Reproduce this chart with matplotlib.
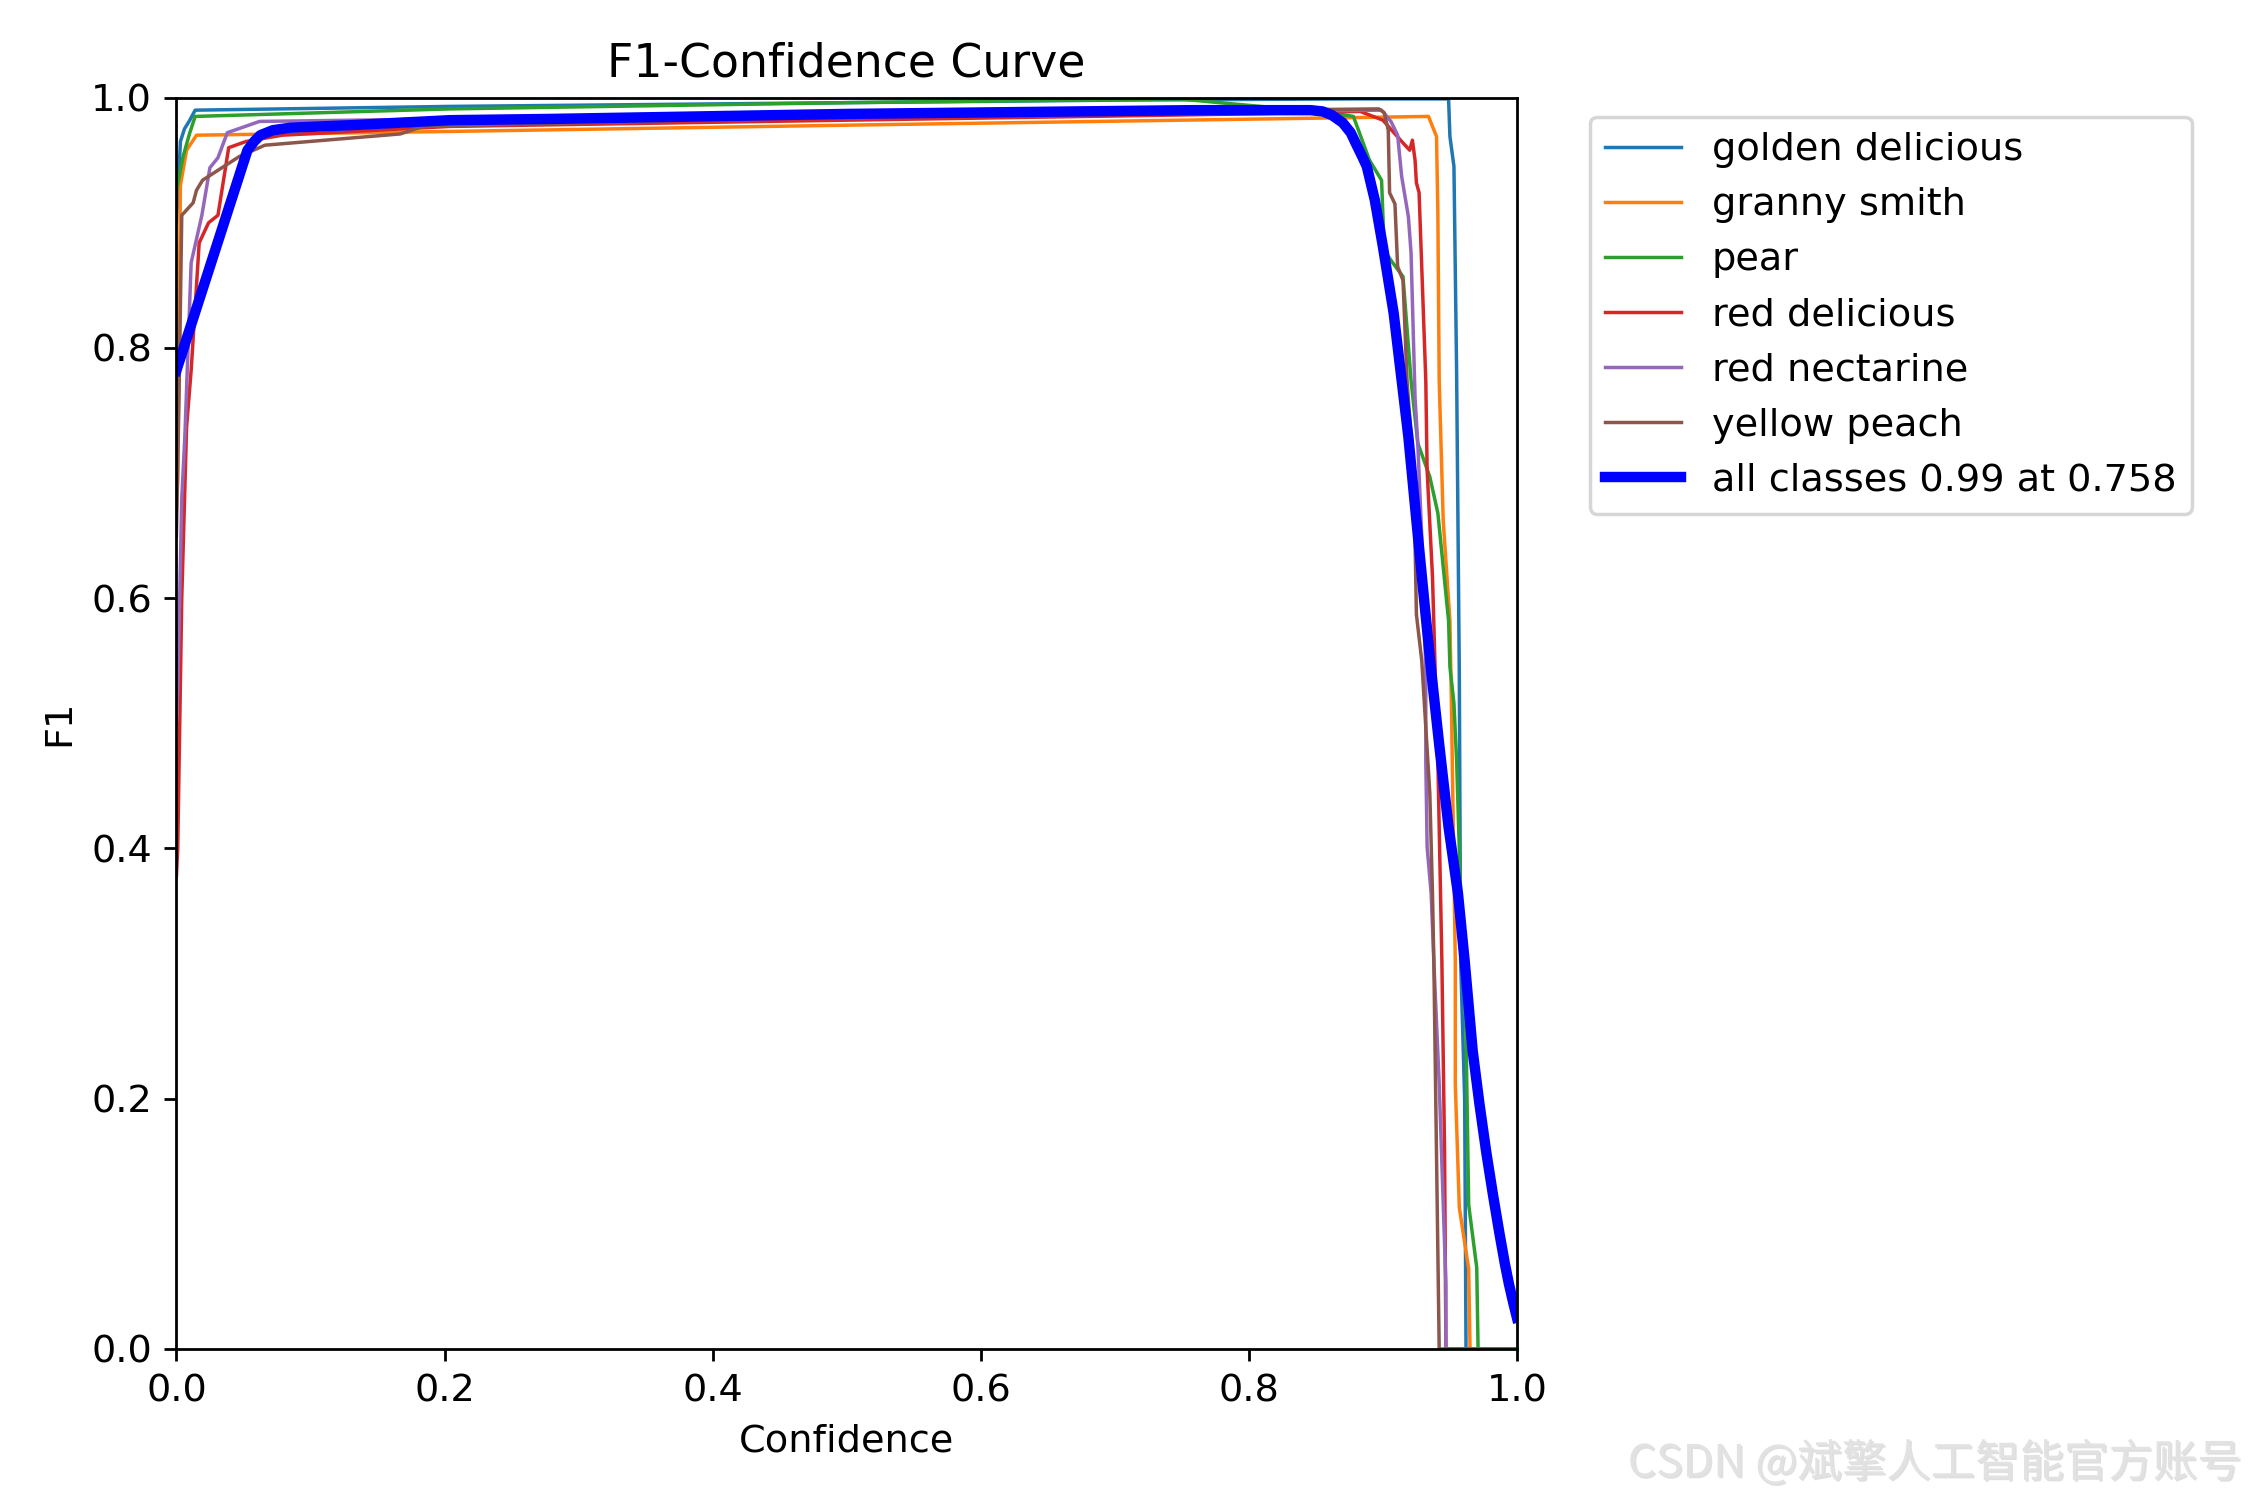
import matplotlib
matplotlib.use("Agg")
import matplotlib.pyplot as plt
import matplotlib.patheffects as pe

plt.rcParams["font.size"] = 11

names = ["golden delicious", "granny smith", "pear", "red delicious",
         "red nectarine", "yellow peach"]

golden_x = [0.0, 0.003, 0.006, 0.010, 0.014, 0.204, 0.5, 0.7, 0.875, 0.949, 0.950, 0.953,
            0.955, 0.957, 0.958, 0.961, 0.962, 1.0]
golden_y = [0.90, 0.965, 0.975, 0.982, 0.990, 0.993, 0.996, 0.998, 0.999, 0.999, 0.969, 0.945,
            0.78, 0.54, 0.31, 0.20, 0.0, 0.0]

granny_x = [0.0, 0.001, 0.003, 0.0076, 0.015, 0.204, 0.5, 0.875, 0.934, 0.940, 0.941, 0.942,
            0.945, 0.950, 0.951, 0.954, 0.954, 0.957, 0.964, 0.965, 1.0]
granny_y = [0.67, 0.695, 0.93, 0.958, 0.970, 0.973, 0.978, 0.984, 0.985, 0.969, 0.908, 0.774,
            0.662, 0.582, 0.524, 0.31, 0.212, 0.113, 0.064, 0.0, 0.0]

pear_x = [0.0, 0.005, 0.010, 0.014, 0.204, 0.5, 0.748, 0.778, 0.860, 0.878, 0.890, 0.899,
          0.901, 0.906, 0.915, 0.921, 0.926, 0.935, 0.941, 0.949, 0.950, 0.953, 0.955,
          0.958, 0.962, 0.964, 0.970, 0.971, 1.0]
pear_y = [0.925, 0.953, 0.972, 0.985, 0.991, 0.996, 0.999, 0.996, 0.988, 0.985, 0.950, 0.934,
          0.878, 0.870, 0.857, 0.774, 0.724, 0.697, 0.668, 0.582, 0.545, 0.516, 0.470,
          0.364, 0.252, 0.115, 0.065, 0.0, 0.0]

redd_x = [0.0, 0.001, 0.004, 0.0076, 0.011, 0.017, 0.024, 0.031, 0.039, 0.052, 0.079, 0.204,
          0.5, 0.8, 0.883, 0.900, 0.914, 0.920, 0.922, 0.924, 0.925, 0.927, 0.928, 0.932,
          0.933, 0.937, 0.939, 0.941, 0.942, 0.944, 0.946, 0.947, 1.0]
redd_y = [0.378, 0.40, 0.60, 0.737, 0.782, 0.884, 0.900, 0.906, 0.960, 0.965, 0.970, 0.977,
          0.982, 0.987, 0.989, 0.982, 0.965, 0.958, 0.966, 0.950, 0.932, 0.924, 0.894, 0.774,
          0.702, 0.617, 0.542, 0.470, 0.417, 0.31, 0.158, 0.0, 0.0]

nect_x = [0.0, 0.001, 0.004, 0.0063, 0.011, 0.019, 0.025, 0.031, 0.038, 0.062, 0.204, 0.5,
          0.8, 0.899, 0.906, 0.911, 0.914, 0.919, 0.921, 0.924, 0.926, 0.929, 0.932, 0.932,
          0.933, 0.936, 0.938, 0.942, 0.947, 0.947, 1.0]
nect_y = [0.50, 0.527, 0.68, 0.729, 0.868, 0.906, 0.944, 0.952, 0.972, 0.981, 0.983, 0.986,
          0.989, 0.990, 0.981, 0.970, 0.937, 0.905, 0.876, 0.76, 0.724, 0.649, 0.542, 0.470,
          0.401, 0.364, 0.31, 0.212, 0.052, 0.0, 0.0]

peach_x = [0.0, 0.002, 0.004, 0.0125, 0.015, 0.0195, 0.047, 0.066, 0.167, 0.184, 0.5, 0.8,
           0.897, 0.901, 0.904, 0.905, 0.909, 0.911, 0.915, 0.918, 0.921, 0.924, 0.925,
           0.929, 0.932, 0.935, 0.937, 0.938, 0.942, 1.0]
peach_y = [0.65, 0.763, 0.906, 0.916, 0.926, 0.934, 0.953, 0.962, 0.971, 0.977, 0.985, 0.990,
           0.991, 0.988, 0.974, 0.924, 0.915, 0.865, 0.854, 0.774, 0.729, 0.644, 0.587,
           0.550, 0.497, 0.444, 0.364, 0.31, 0.0, 0.0]

mean_x = [0.0, 0.053, 0.058, 0.0626, 0.072, 0.085, 0.13, 0.204, 0.279, 0.5, 0.758, 0.846,
          0.855, 0.862, 0.870, 0.876, 0.880, 0.885, 0.888, 0.894, 0.900, 0.908, 0.914,
          0.919, 0.925, 0.931, 0.936, 0.942, 0.949, 0.956, 0.961, 0.967, 0.972, 0.977,
          0.982, 0.987, 0.991, 0.994, 0.997, 1.0]
mean_y = [0.782, 0.958, 0.965, 0.970, 0.974, 0.976, 0.978, 0.982, 0.983, 0.987, 0.990, 0.990,
          0.989, 0.986, 0.980, 0.972, 0.963, 0.952, 0.945, 0.918, 0.881, 0.828, 0.774,
          0.729, 0.662, 0.596, 0.542, 0.483, 0.417, 0.364, 0.31, 0.238, 0.196, 0.158,
          0.124, 0.092, 0.068, 0.052, 0.038, 0.025]

series_x = [golden_x, granny_x, pear_x, redd_x, nect_x, peach_x]
series_y = [golden_y, granny_y, pear_y, redd_y, nect_y, peach_y]
mean_label = "all classes 0.99 at 0.758"

fig, ax = plt.subplots(1, 1, figsize=(9, 6))
fig.subplots_adjust(left=0.0784, right=0.6742, top=0.9349, bottom=0.1007)

for nm, xs, ys in zip(names, series_x, series_y):
    ax.plot(xs, ys, linewidth=1, label=nm)
ax.plot(mean_x, mean_y, linewidth=3, color="blue", label=mean_label)

ax.set_xlabel("Confidence")
ax.set_ylabel("F1")
ax.set_xlim(0, 1)
ax.set_ylim(0, 1)
ax.legend(bbox_to_anchor=(1.04, 1), loc="upper left")
ax.set_title("F1-Confidence Curve")

fig.text(0.996, 0.009, "CSDN @斌擎人工智能官方账号", ha="right", va="bottom",
         fontsize=12.8, color="#e2e2e2", family=["Noto Sans CJK SC", "DejaVu Sans"],
         path_effects=[pe.withSimplePatchShadow(offset=(0.5, -0.5),
                                                shadow_rgbFace="#b0b0b0", alpha=0.4)])

fig.savefig("out.png", dpi=250)
